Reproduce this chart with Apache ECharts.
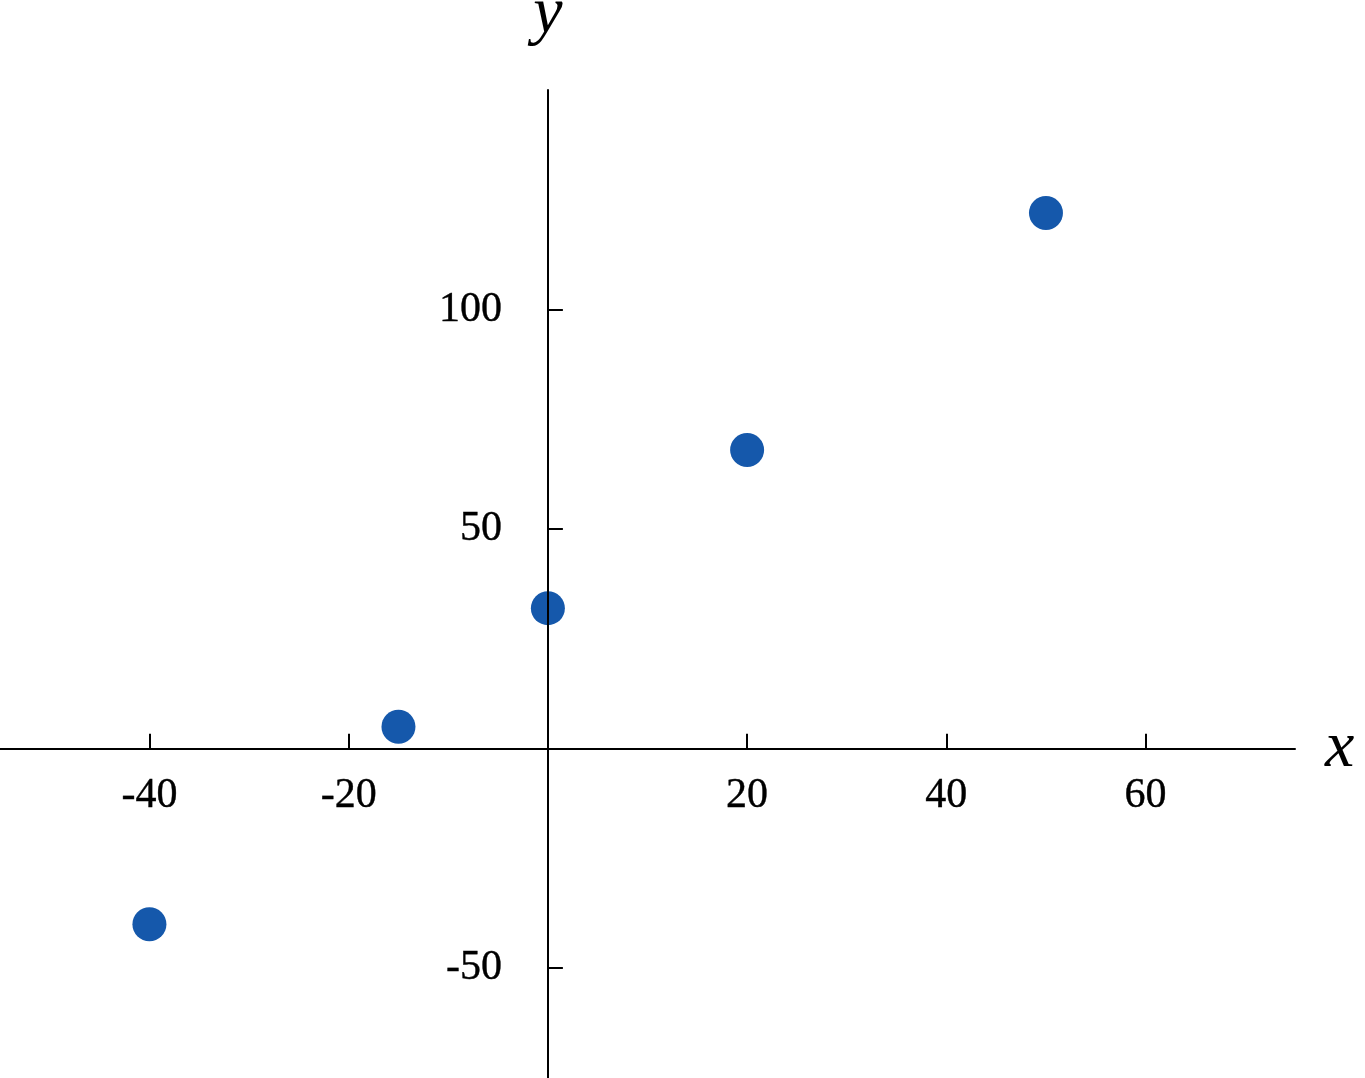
<!DOCTYPE html>
<html><head><meta charset="utf-8">
<script src="https://cdn.jsdelivr.net/npm/echarts@6/dist/echarts.min.js"></script>
<style>html,body{margin:0;padding:0;background:#fff}#c{width:1365px;height:1078px}</style>
</head><body><div id="c"></div>
<script>
const xValues = [-40, -15, 0, 20, 50];
const yValues = [-40, 5, 32, 68, 122];
const xTicks = [-40, -20, 20, 40, 60];
const yTicks = [-50, 50, 100];

const chart = echarts.init(document.getElementById('c'));
const font = '"Liberation Serif", "DejaVu Serif", serif';
const labelStyle = { fontFamily: font, fontSize: 42, color: '#000', opacity: 1, textBorderColor: '#000', textBorderWidth: 0.4 };
chart.setOption({
  animation: false,
  grid: { left: 0, right: 70, top: 90, bottom: 0, containLabel: false, outerBoundsMode: 'none' },
  xAxis: {
    type: 'value', min: -55, max: 75, z: 5,
    name: 'x', nameLocation: 'end', nameGap: 30,
    nameTextStyle: { fontFamily: font, fontStyle: 'italic', fontSize: 66, color: '#000', verticalAlign: 'middle', align: 'left' },
    axisLine: { onZero: true, lineStyle: { color: '#000', width: 2 } },
    axisTick: { show: true, inside: true, length: 15, lineStyle: { color: '#000', width: 2 }, customValues: xTicks },
    axisLabel: { show: true, customValues: xTicks, formatter: () => '' },
    splitLine: { show: false }
  },
  yAxis: {
    type: 'value', min: -75, max: 150, z: 5,
    name: 'y', nameLocation: 'end', nameGap: 42,
    nameTextStyle: { fontFamily: font, fontStyle: 'italic', fontSize: 66, color: '#000', align: 'center' },
    axisLine: { onZero: true, lineStyle: { color: '#000', width: 2 } },
    axisTick: { show: true, inside: true, length: 15, lineStyle: { color: '#000', width: 2 }, customValues: yTicks },
    axisLabel: { show: true, customValues: yTicks, formatter: () => '' },
    splitLine: { show: false }
  },
  series: [{
    type: 'scatter', z: 2,
    symbolSize: 34,
    itemStyle: { color: '#1558ab', opacity: 1 },
    data: xValues.map((x, i) => [x, yValues[i]])
  }, {
    type: 'scatter', silent: true, z: 6,
    symbolSize: 0, itemStyle: { color: '#000' },
    label: Object.assign({ show: true, position: 'bottom', distance: 26, formatter: p => String(p.value[0]) }, labelStyle),
    data: xTicks.map(t => [t, 0])
  }, {
    type: 'scatter', silent: true, z: 6,
    symbolSize: 0, itemStyle: { color: '#000' },
    label: Object.assign({ show: true, position: 'left', distance: 46, formatter: p => String(p.value[1]) }, labelStyle),
    data: yTicks.map(t => [0, t])
  }]
});
</script></body></html>
